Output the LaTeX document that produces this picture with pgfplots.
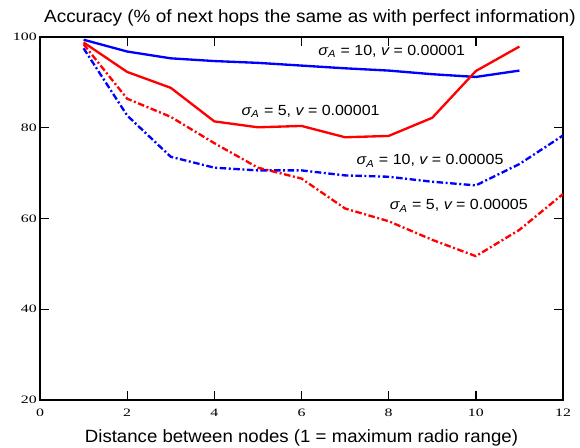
\documentclass[border=0pt]{standalone}
\usepackage{fontspec}
\setmainfont{Liberation Sans}
\newfontfamily\tickfont{Liberation Serif}
\usepackage{graphicx}
\usepackage{pgfplots}
\pgfplotsset{compat=1.18}

\newcommand{\lbl}[2]{\scalebox{1.09}[1]{{\itshape σ}\textsubscript{\itshape A} = #1, {\itshape v} = #2}}

\begin{document}
\begin{tikzpicture}
\begin{axis}[
    scale only axis,
    width=392.25pt, height=272.25pt,
    xmin=0, xmax=12, ymin=20, ymax=100,
    xtick={0,2,...,12}, ytick={20,40,...,100},
    tick align=inside,
    major tick length=6.75pt,
    axis line style={line width=1pt},
    tick style={black, line width=1pt},
    /pgf/number format/assume math mode=true,
    tick label style={font=\fontsize{8.5}{9}\tickfont},
    xticklabel={\scalebox{1.4}[1]{\pgfmathprintnumber{\tick}}},
    yticklabel={\scalebox{1.4}[1]{\pgfmathprintnumber{\tick}}},
    xticklabel style={anchor=north, inner sep=0pt, yshift=-6.75pt},
    yticklabel style={anchor=east, inner sep=0pt, xshift=-2.25pt},
    every axis title shift=0pt,
    title={\scalebox{1.07}[1]{Accuracy (\% of next hops the same as with perfect information)}},
    title style={font=\fontsize{13.3}{15}\selectfont,
        at={(axis description cs:0.516,1)}, anchor=base, yshift=10.9pt},
    xlabel={\scalebox{1.05}[1]{Distance between nodes (1 = maximum radio range)}},
    xlabel style={font=\fontsize{13.3}{15}\selectfont,
        at={(axis description cs:0.5,0)}, anchor=base, yshift=-31.5pt},
    every axis plot/.append style={line width=1.75pt},
    dashdot/.style={dash pattern=on 4.9pt off 1.9pt on 1.5pt off 1.9pt},
]
% sigma_A = 10, v = 0.00001
\addplot[blue, mark=none] coordinates {
    (1,99.4) (2,96.8) (3,95.3) (4,94.7) (5,94.3) (6,93.7)
    (7,93.1) (8,92.6) (9,91.8) (10,91.2) (11,92.6)};
% sigma_A = 5, v = 0.00001
\addplot[red, mark=none] coordinates {
    (1,98.8) (2,92.3) (3,88.8) (4,81.4) (5,80.1) (6,80.4)
    (7,77.9) (8,78.2) (9,82.2) (10,92.5) (11,97.9)};
% sigma_A = 10, v = 0.00005
\addplot[blue, dashdot, mark=none] coordinates {
    (1,97.5) (2,82.7) (3,73.6) (4,71.2) (5,70.6) (6,70.6)
    (7,69.5) (8,69.2) (9,68.1) (10,67.3) (11,72.0) (12,78.3)};
% sigma_A = 5, v = 0.00005
\addplot[red, dashdot, mark=none] coordinates {
    (1,98.4) (2,86.4) (3,82.4) (4,76.6) (5,71.2) (6,68.8)
    (7,62.2) (8,59.4) (9,55.3) (10,51.7) (11,57.5) (12,65.4)};

\begin{scope}[every node/.style={font=\fontsize{11}{13}\selectfont, anchor=base, inner sep=0pt}]
\node at (axis cs:8.07,96.0) {\lbl{10}{0.00001}};
\node at (axis cs:6.21,82.7) {\lbl{5}{0.00001}};
\node at (axis cs:8.95,71.8) {\lbl{10}{0.00005}};
\node at (axis cs:9.61,61.9) {\lbl{5}{0.00005}};
\end{scope}
\end{axis}
\pgfresetboundingbox
\path[use as bounding box] (-30pt,-36pt) rectangle (405pt,300pt);
\end{tikzpicture}
\end{document}
